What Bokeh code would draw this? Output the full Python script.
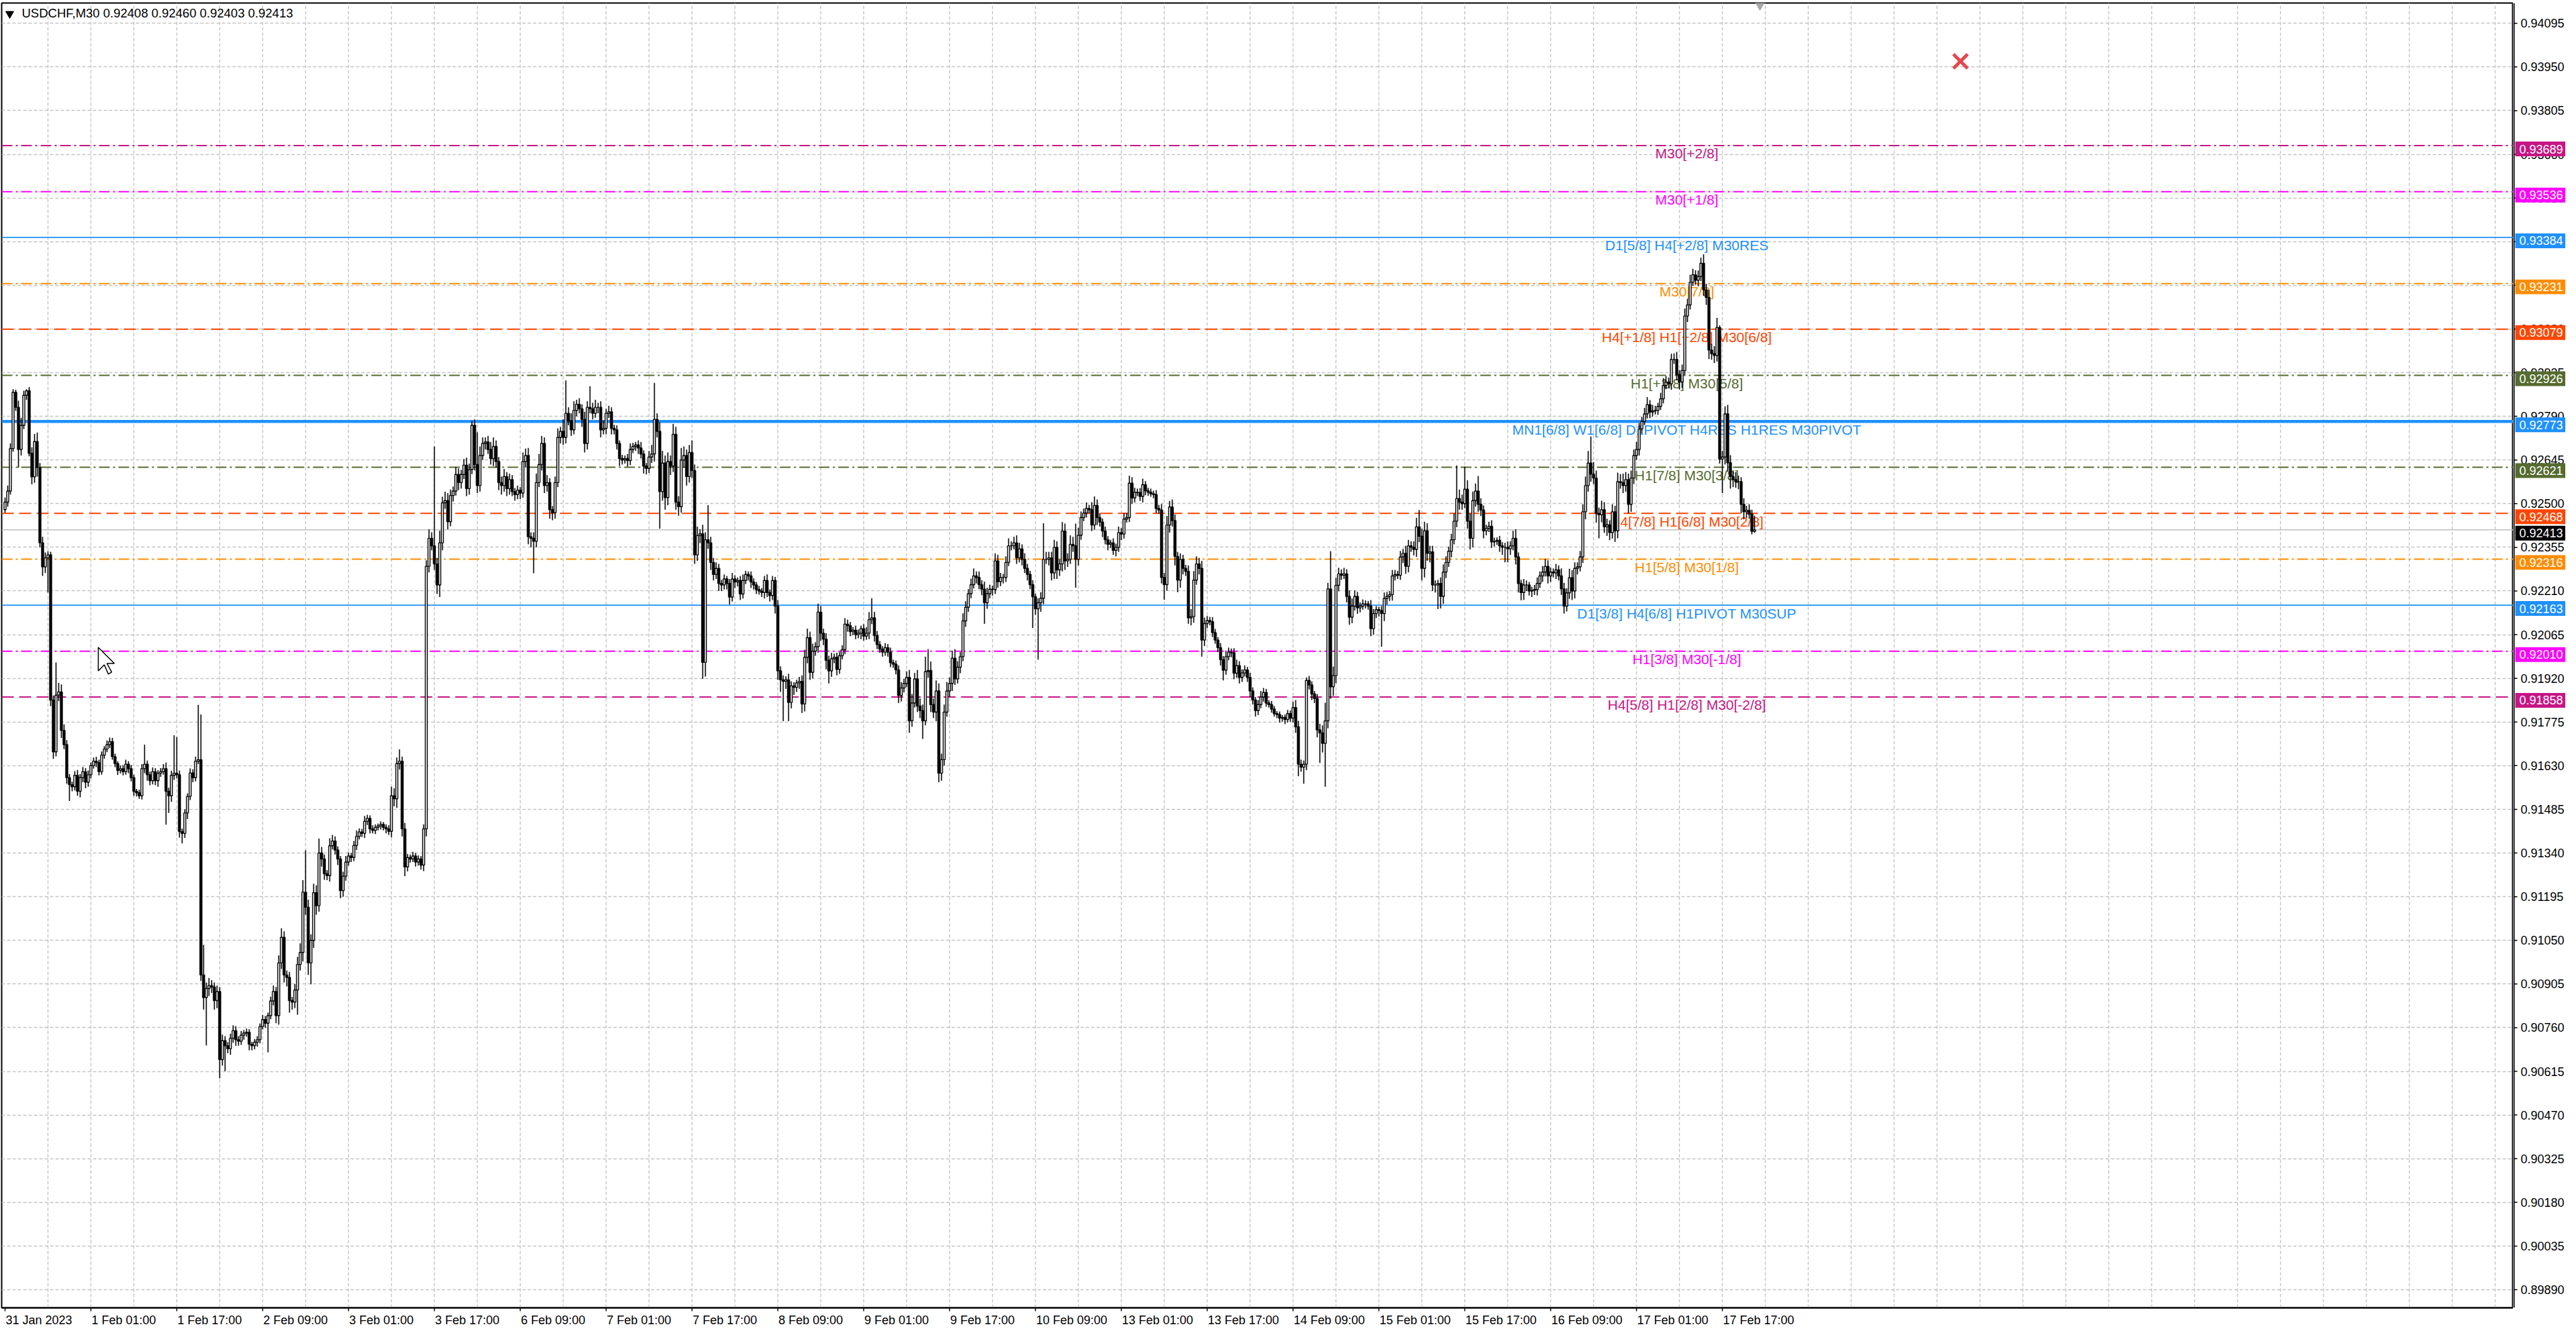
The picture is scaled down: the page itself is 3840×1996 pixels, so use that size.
import numpy as np
from bokeh.plotting import figure
from bokeh.layouts import row
from bokeh.models import Range1d, FixedTicker, Label, ColumnDataSource
from bokeh.embed import file_html
from bokeh.resources import INLINE
from bokeh.core.properties import value

# ---------------- data (prices in points above 0.90000) ----------------
TITLE_TEXT = "USDCHF,M30  0.92408 0.92460 0.92403 0.92413"
FIRST_OPEN = 2480
CLOSE = [
    2505, 2542, 2683, 2870, 2820, 2680, 2760, 2860, 2875, 2667,
    2589, 2706, 2620, 2370, 2290, 2320, 2330, 1848, 1676, 1864,
    1875, 1747, 1700, 1590, 1567, 1560, 1598, 1545, 1590, 1610,
    1575, 1600, 1630, 1645, 1640, 1610, 1665, 1685, 1700, 1710,
    1660, 1637, 1614, 1620, 1610, 1635, 1620, 1590, 1545, 1540,
    1530, 1620, 1635, 1600, 1580, 1610, 1580, 1605, 1610, 1620,
    1545, 1530, 1598, 1605, 1600, 1411, 1405, 1473, 1528, 1606,
    1590, 1645, 1650, 935, 860, 890, 900, 895, 850, 880,
    654, 717, 700, 690, 725, 750, 720, 715, 735, 742,
    745, 705, 700, 712, 720, 764, 787, 775, 800, 849,
    880, 800, 975, 1060, 935, 927, 850, 845, 885, 970,
    1010, 1210, 1160, 975, 1050, 1208, 1165, 1340, 1320, 1271,
    1265, 1364, 1380, 1350, 1320, 1215, 1263, 1310, 1330, 1325,
    1365, 1395, 1410, 1405, 1445, 1455, 1420, 1415, 1425, 1430,
    1435, 1425, 1420, 1412, 1530, 1520, 1637, 1645, 1420, 1294,
    1325, 1320, 1330, 1310, 1320, 1300, 1420, 2292, 2385, 2360,
    2300, 2230, 2370, 2503, 2510, 2440, 2527, 2542, 2597, 2570,
    2597, 2628, 2550, 2613, 2760, 2630, 2560, 2660, 2700, 2705,
    2680, 2650, 2690, 2640, 2570, 2560, 2590, 2550, 2580, 2540,
    2530, 2545, 2535, 2640, 2660, 2390, 2385, 2375, 2570, 2630,
    2700, 2560, 2570, 2480, 2470, 2570, 2720, 2740, 2720, 2800,
    2775, 2745, 2810, 2830, 2815, 2780, 2700, 2820, 2815, 2800,
    2820, 2820, 2745, 2750, 2800, 2805, 2750, 2745, 2700, 2650,
    2645, 2650, 2643, 2680, 2690, 2695, 2685, 2665, 2625, 2617,
    2655, 2665, 2780, 2740, 2540, 2635, 2520, 2640, 2625, 2730,
    2505, 2490, 2645, 2660, 2590, 2670, 2610, 2330, 2394, 2400,
    1973, 2380, 2370, 2305, 2265, 2285, 2235, 2230, 2250, 2235,
    2190, 2250, 2240, 2245, 2200, 2245, 2265, 2260, 2240, 2230,
    2215, 2210, 2205, 2245, 2205, 2195, 2245, 2160, 1945, 1915,
    1910, 1915, 1840, 1895, 1890, 1905, 1910, 1835, 1990, 2055,
    1940, 2010, 2025, 2140, 2070, 2050, 1980, 1945, 1985, 1990,
    1950, 1995, 2015, 2100, 2095, 2075, 2080, 2065, 2070, 2085,
    2060, 2070, 2115, 2121, 2062, 2032, 2017, 2007, 2022, 2007,
    1972, 1967, 1948, 1863, 1888, 1903, 1923, 1779, 1838, 1918,
    1828, 1813, 1779, 1942, 1946, 1833, 1808, 1878, 1605, 1650,
    1808, 1878, 1903, 1987, 1918, 1957, 1992, 2111, 2156, 2201,
    2231, 2260, 2255, 2231, 2216, 2171, 2201, 2216, 2215, 2310,
    2241, 2255, 2255, 2305, 2360, 2360, 2370, 2320, 2350, 2315,
    2285, 2265, 2231, 2191, 2151, 2171, 2186, 2315, 2315, 2320,
    2270, 2355, 2280, 2300, 2409, 2310, 2315, 2365, 2360, 2315,
    2395, 2454, 2469, 2484, 2480, 2429, 2494, 2454, 2439, 2409,
    2380, 2365, 2370, 2345, 2355, 2404, 2399, 2449, 2454, 2568,
    2519, 2538, 2537, 2524, 2563, 2543, 2538, 2533, 2530, 2484,
    2479, 2255, 2231, 2429, 2489, 2444, 2325, 2246, 2315, 2285,
    2275, 2121, 2125, 2246, 2300, 2285, 2047, 2102, 2112, 2108,
    2072, 2047, 2022, 1982, 1947, 1992, 2007, 2005, 1937, 1962,
    1923, 1938, 1948, 1923, 1878, 1848, 1813, 1833, 1858, 1873,
    1838, 1833, 1818, 1803, 1800, 1788, 1790, 1783, 1803, 1788,
    1823, 1759, 1635, 1625, 1635, 1913, 1898, 1868, 1853, 1749,
    1739, 1704, 1779, 2217, 1892, 1929, 2229, 2267, 2262, 2267,
    2192, 2123, 2160, 2192, 2154, 2160, 2167, 2167, 2160, 2085,
    2135, 2148, 2145, 2135, 2185, 2192, 2198, 2260, 2265, 2262,
    2323, 2335, 2292, 2360, 2355, 2348, 2423, 2392, 2285, 2410,
    2335, 2340, 2230, 2230, 2235, 2192, 2273, 2305, 2342, 2380,
    2442, 2517, 2505, 2500, 2548, 2442, 2385, 2510, 2542, 2498,
    2479, 2410, 2418, 2425, 2373, 2375, 2378, 2360, 2355, 2355,
    2350, 2360, 2385, 2323, 2235, 2205, 2230, 2230, 2210, 2212,
    2215, 2235, 2260, 2273, 2292, 2260, 2273, 2270, 2280, 2260,
    2217, 2160, 2204, 2254, 2210, 2285, 2290, 2323, 2473, 2560,
    2635, 2598, 2585, 2467, 2463, 2480, 2423, 2430, 2404, 2473,
    2410, 2573, 2570, 2560, 2580, 2498, 2585, 2660, 2680, 2748,
    2773, 2798, 2829, 2804, 2808, 2810, 2823, 2848, 2892, 2904,
    2898, 2979, 2979, 2929, 2904, 2942, 3123, 3160, 3235, 3260,
    3242, 3254, 3298, 3210, 3185, 3010, 2998, 2992, 3085, 2648,
    2655, 2798, 2636, 2590, 2580, 2573, 2573, 2498, 2473, 2478,
    2465, 2408, 2413,
]
UPPER_WICK = [
    15, 18, 17, 10, 8, 22, 25, 15, 5, 12,
    20, 25, 30, 15, 20, 18, 12, 10, 15, 109,
    30, 25, 20, 15, 12, 10, 14, 18, 12, 15,
    12, 14, 10, 12, 15, 10, 12, 10, 14, 13,
    12, 10, 8, 10, 12, 15, 10, 12, 10, 8,
    10, 15, 65, 12, 10, 14, 12, 10, 12, 15,
    20, 12, 15, 126, 120, 14, 10, 12, 10, 15,
    12, 15, 182, 150, 100, 20, 25, 18, 15, 20,
    15, 20, 15, 12, 15, 18, 15, 12, 14, 10,
    12, 10, 8, 10, 12, 10, 15, 12, 10, 14,
    20, 15, 25, 30, 20, 15, 18, 12, 20, 25,
    30, 40, 139, 25, 20, 30, 25, 48, 20, 15,
    12, 25, 20, 15, 12, 10, 15, 20, 12, 10,
    15, 20, 12, 10, 18, 12, 10, 12, 10, 8,
    10, 8, 10, 12, 30, 25, 20, 39, 15, 20,
    12, 10, 14, 10, 12, 10, 15, 20, 30, 20,
    330, 20, 40, 20, 30, 25, 20, 15, 25, 20,
    15, 20, 25, 20, 15, 20, 107, 30, 20, 15,
    20, 25, 30, 20, 15, 20, 25, 15, 20, 15,
    12, 15, 10, 30, 23, 25, 15, 20, 30, 35,
    25, 20, 25, 15, 12, 20, 30, 15, 40, 109,
    20, 25, 30, 15, 20, 15, 25, 20, 70, 20,
    25, 15, 20, 25, 15, 20, 15, 12, 15, 10,
    12, 10, 15, 20, 12, 10, 15, 20, 12, 10,
    20, 30, 121, 20, 30, 40, 25, 30, 20, 35,
    25, 20, 40, 30, 20, 25, 40, 20, 30, 15,
    30, 25, 115, 20, 15, 20, 15, 12, 15, 10,
    15, 20, 12, 10, 15, 20, 12, 10, 15, 12,
    10, 12, 10, 15, 20, 10, 15, 12, 20, 15,
    15, 12, 20, 15, 12, 10, 15, 20, 25, 30,
    20, 25, 15, 28, 20, 15, 20, 15, 20, 12,
    15, 12, 15, 20, 15, 12, 10, 15, 12, 10,
    15, 20, 25, 65, 20, 15, 12, 10, 15, 12,
    15, 10, 12, 15, 20, 15, 20, 25, 30, 20,
    30, 25, 20, 50, 71, 30, 20, 35, 25, 20,
    25, 30, 20, 25, 30, 20, 15, 25, 20, 15,
    20, 25, 15, 20, 15, 25, 20, 15, 12, 25,
    20, 15, 12, 20, 25, 15, 20, 25, 20, 15,
    20, 15, 12, 15, 10, 15, 20, 120, 25, 20,
    20, 25, 20, 15, 30, 25, 20, 30, 25, 74,
    25, 20, 15, 20, 12, 25, 30, 20, 15, 12,
    15, 12, 10, 15, 12, 20, 15, 20, 15, 25,
    20, 15, 12, 15, 20, 12, 10, 12, 10, 15,
    12, 20, 15, 30, 20, 25, 20, 15, 20, 15,
    12, 20, 25, 30, 25, 20, 25, 20, 15, 12,
    15, 12, 10, 15, 12, 20, 15, 12, 15, 20,
    15, 12, 15, 10, 15, 12, 10, 15, 20, 15,
    12, 10, 12, 10, 8, 10, 8, 10, 12, 10,
    20, 25, 20, 15, 12, 10, 15, 12, 10, 15,
    20, 25, 60, 20, 125, 30, 25, 20, 15, 20,
    15, 20, 25, 20, 15, 12, 15, 12, 10, 20,
    15, 12, 10, 15, 20, 15, 12, 20, 15, 12,
    20, 15, 25, 20, 15, 20, 30, 56, 25, 30,
    25, 20, 20, 15, 12, 20, 25, 20, 15, 20,
    25, 110, 30, 25, 75, 30, 25, 30, 25, 50,
    20, 15, 12, 15, 20, 12, 10, 15, 12, 15,
    20, 15, 25, 30, 15, 12, 20, 15, 10, 12,
    15, 20, 15, 20, 25, 20, 15, 12, 20, 15,
    25, 20, 15, 30, 25, 20, 15, 20, 25, 30,
    40, 88, 40, 25, 20, 30, 25, 20, 15, 25,
    20, 30, 25, 30, 25, 20, 25, 20, 25, 20,
    15, 20, 25, 15, 20, 15, 12, 20, 25, 20,
    15, 19, 20, 25, 15, 20, 25, 20, 25, 20,
    15, 20, 19, 30, 20, 25, 20, 25, 32, 7,
    20, 25, 30, 25, 20, 25, 20, 15, 20, 15,
    20, 15, 47,
]
LOWER_WICK = [
    10, 15, 12, 10, 12, 60, 20, 12, 15, 10,
    25, 20, 30, 15, 30, 20, 115, 20, 23, 15,
    20, 25, 15, 20, 54, 15, 12, 15, 20, 15,
    20, 15, 12, 10, 15, 12, 10, 12, 10, 12,
    10, 12, 15, 10, 12, 10, 15, 12, 15, 12,
    10, 12, 15, 20, 15, 12, 15, 20, 12, 10,
    111, 57, 20, 15, 12, 20, 33, 15, 20, 12,
    15, 12, 10, 20, 40, 159, 25, 20, 30, 25,
    62, 20, 85, 15, 20, 15, 20, 15, 12, 15,
    12, 20, 15, 12, 15, 12, 10, 15, 97, 12,
    15, 25, 30, 20, 25, 30, 40, 25, 20, 82,
    20, 30, 25, 40, 71, 25, 30, 20, 25, 20,
    15, 20, 12, 15, 20, 25, 20, 15, 12, 15,
    12, 15, 10, 12, 15, 12, 15, 10, 12, 10,
    12, 10, 15, 12, 20, 25, 30, 20, 25, 31,
    15, 12, 10, 15, 12, 15, 20, 25, 20, 15,
    20, 30, 40, 25, 20, 25, 15, 20, 15, 25,
    20, 15, 25, 20, 15, 20, 25, 20, 15, 20,
    15, 20, 25, 20, 25, 30, 20, 25, 20, 15,
    20, 15, 20, 15, 20, 25, 30, 106, 20, 15,
    20, 25, 20, 30, 25, 20, 15, 20, 25, 20,
    15, 20, 15, 20, 15, 25, 30, 20, 15, 20,
    15, 20, 25, 15, 20, 15, 20, 15, 20, 25,
    15, 12, 20, 15, 12, 15, 20, 15, 25, 20,
    15, 20, 25, 20, 123, 30, 40, 25, 30, 20,
    25, 30, 20, 25, 30, 20, 25, 30, 20, 25,
    55, 47, 20, 25, 20, 15, 25, 20, 15, 20,
    25, 15, 20, 15, 20, 15, 12, 15, 20, 15,
    15, 12, 15, 20, 15, 20, 15, 25, 30, 40,
    132, 25, 62, 20, 25, 15, 20, 30, 25, 20,
    25, 20, 15, 20, 25, 20, 30, 42, 20, 15,
    20, 15, 12, 15, 20, 15, 12, 15, 12, 20,
    15, 12, 20, 15, 20, 15, 12, 15, 12, 15,
    15, 12, 15, 25, 20, 15, 12, 40, 20, 15,
    20, 25, 60, 15, 20, 25, 20, 30, 30, 25,
    20, 15, 20, 25, 20, 15, 20, 15, 20, 15,
    15, 12, 20, 15, 20, 70, 20, 15, 20, 15,
    20, 15, 20, 15, 12, 15, 12, 20, 15, 20,
    15, 20, 15, 104, 20, 169, 30, 20, 15, 20,
    25, 20, 30, 20, 25, 30, 20, 15, 20, 94,
    20, 15, 12, 15, 12, 20, 15, 25, 15, 20,
    15, 20, 12, 15, 20, 15, 20, 15, 12, 15,
    20, 15, 12, 15, 20, 15, 12, 10, 12, 15,
    12, 20, 50, 20, 25, 20, 30, 40, 25, 20,
    15, 20, 25, 20, 15, 20, 55, 20, 15, 12,
    15, 12, 15, 20, 34, 15, 12, 15, 20, 15,
    20, 15, 12, 15, 20, 15, 20, 15, 12, 15,
    12, 10, 12, 10, 12, 15, 12, 15, 10, 12,
    15, 20, 40, 15, 55, 20, 15, 20, 15, 25,
    100, 30, 144, 25, 40, 30, 25, 20, 15, 12,
    20, 25, 20, 15, 20, 15, 12, 15, 12, 25,
    20, 15, 20, 110, 25, 20, 15, 20, 15, 12,
    15, 20, 25, 20, 15, 20, 25, 20, 40, 30,
    25, 30, 20, 25, 80, 40, 25, 20, 15, 20,
    15, 20, 25, 20, 15, 25, 37, 30, 20, 25,
    20, 25, 15, 12, 20, 15, 12, 20, 25, 50,
    45, 20, 15, 25, 30, 26, 25, 20, 15, 20,
    15, 20, 15, 20, 15, 25, 20, 15, 20, 15,
    20, 25, 18, 20, 30, 25, 20, 15, 20, 25,
    20, 25, 20, 30, 78, 25, 20, 30, 25, 20,
    37, 25, 20, 25, 20, 30, 25, 20, 15, 20,
    15, 12, 15, 20, 15, 12, 15, 12, 15, 12,
    15, 20, 15, 20, 25, 20, 15, 20, 15, 12,
    15, 20, 15, 20, 25, 30, 20, 25, 20, 15,
    113, 25, 30, 40, 25, 20, 25, 30, 25, 20,
    15, 10, 5,
]

X_TICK_LABELS = [
    "31 Jan 2023", "1 Feb 01:00", "1 Feb 17:00", "2 Feb 09:00", "3 Feb 01:00",
    "3 Feb 17:00", "6 Feb 09:00", "7 Feb 01:00", "7 Feb 17:00", "8 Feb 09:00",
    "9 Feb 01:00", "9 Feb 17:00", "10 Feb 09:00", "13 Feb 01:00", "13 Feb 17:00",
    "14 Feb 09:00", "15 Feb 01:00", "15 Feb 17:00", "16 Feb 09:00", "17 Feb 01:00",
    "17 Feb 17:00",
]
BARS_PER_LABEL = 32
BARS_PER_GRID = 16

Y_TICK_LABELS = [
    "0.89890", "0.90035", "0.90180", "0.90325", "0.90470", "0.90615", "0.90760",
    "0.90905", "0.91050", "0.91195", "0.91340", "0.91485", "0.91630", "0.91775",
    "0.91920", "0.92065", "0.92210", "0.92355", "0.92500", "0.92645", "0.92790",
    "0.92935", "0.93080", "0.93225", "0.93370", "0.93515", "0.93660", "0.93805",
    "0.93950", "0.94095",
]

LEVEL_PRICES = [0.93689, 0.93536, 0.93384, 0.93231, 0.93079, 0.92926, 0.92773,
                0.92621, 0.92468, 0.92316, 0.92163, 0.92010, 0.91858]
LEVEL_NAMES = [
    "M30[+2/8]", "M30[+1/8]", "D1[5/8] H4[+2/8] M30RES", "M30[7/8]",
    "H4[+1/8] H1[+2/8] M30[6/8]", "H1[+1/8] M30[5/8]",
    "MN1[6/8] W1[6/8] D1PIVOT H4RES H1RES M30PIVOT", "H1[7/8] M30[3/8]",
    "H4[7/8] H1[6/8] M30[2/8]", "H1[5/8] M30[1/8]", "D1[3/8] H4[6/8] H1PIVOT M30SUP",
    "H1[3/8] M30[-1/8]", "H4[5/8] H1[2/8] M30[-2/8]",
]
CURRENT_PRICE = 0.92413

# ---------------- styles ----------------
LEVEL_COLORS = ["#C71585", "#FF00FF", "#1E90FF", "#FF8C00", "#FF4500", "#556B2F",
                "#1E90FF", "#556B2F", "#FF4500", "#FF8C00", "#1E90FF", "#FF00FF",
                "#C71585"]
LEVEL_KIND = ["dashdot", "dashdot", "solid", "dashdot", "dashed", "dashdot", "thick",
              "dashdot", "dashed", "dashdot", "solid", "dashdot", "dashed"]
DASHES = {"dashdot": "16 5 3 5", "dashed": "18 8", "solid": "solid", "thick": "solid"}
WIDTHS = {"dashdot": 2.0, "dashed": 2.0, "solid": 1.8, "thick": 4.5}
FONT = "Liberation Sans"
# approximate Arial advance widths (em) used to left-align the time labels
CHAR_EM = {" ": 0.278, ":": 0.278, "J": 0.5, "F": 0.611}

BASE, POINT = 0.90, 1e-5
TOTAL_W, H = 3824, 1980
FRAME_L, FRAME_T, FRAME_R, FRAME_B = 2, 4, 3746, 1952
SCALE_W = TOTAL_W - FRAME_R
PX_PER_BAR = 4.0
PX_PER_UNIT = 44962.0


def bx(px):  # screen x -> bar index
    return (px - 7) / PX_PER_BAR


def py(sy):  # screen y -> price
    return 0.94095 - (sy - 34.3) / PX_PER_UNIT


X0, X1 = bx(FRAME_L), bx(FRAME_R)
Y0, Y1 = py(FRAME_B), py(FRAME_T)
UPP = 1.0 / PX_PER_UNIT
yr = Range1d(Y0, Y1)

# ---------------- derived candle arrays ----------------
c = np.array(CLOSE, dtype=float)
o = np.concatenate([[FIRST_OPEN], c[:-1]])
body_top = np.maximum(o, c)
body_bot = np.minimum(o, c)
hi = body_top + np.array(UPPER_WICK, dtype=float)
lo = body_bot - np.array(LOWER_WICK, dtype=float)
xs = np.arange(len(c))
src = ColumnDataSource(dict(
    x=xs,
    top=BASE + body_top * POINT,
    bottom=BASE + body_bot * POINT,
    hi=BASE + hi * POINT,
    lo=BASE + lo * POINT,
    fill=["white" if cc >= oo else "black" for oo, cc in zip(o, c)],
))

# ================= main chart =================
p = figure(width=FRAME_R, height=H, x_range=Range1d(X0, X1), y_range=yr,
           y_axis_location=None, output_backend="svg", toolbar_location=None,
           min_border_left=FRAME_L, min_border_top=FRAME_T,
           min_border_right=0, min_border_bottom=H - FRAME_B)
p.background_fill_color = "white"
p.border_fill_color = "white"
p.outline_line_color = "black"
p.outline_line_width = 2

x_ticks = [i * BARS_PER_LABEL for i in range(len(X_TICK_LABELS))]


def text_px(s, size=18):
    return size * sum(CHAR_EM.get(ch, 0.556) for ch in s)


# labels start at their tick (MT4 style); the tick marks are drawn as minor ticks
label_pos = [round(t + (text_px(s) / 2 + 1) / PX_PER_BAR, 3) for t, s in zip(x_ticks, X_TICK_LABELS)]
xax = p.xaxis[0]
xax.ticker = FixedTicker(ticks=label_pos, minor_ticks=x_ticks)
xax.major_label_overrides = {t: s for t, s in zip(label_pos, X_TICK_LABELS)}
xax.axis_line_color = "black"
xax.axis_line_width = 2
xax.major_label_text_font = FONT
xax.major_label_text_font_size = "18px"
xax.major_label_text_color = "black"
xax.major_tick_line_color = None
xax.major_tick_in = 0
xax.major_tick_out = 0
xax.minor_tick_line_color = "black"
xax.minor_tick_line_width = 1.5
xax.minor_tick_in = 0
xax.minor_tick_out = 5
xax.major_label_standoff = 3

y_ticks = [float(s) for s in Y_TICK_LABELS]
p.xgrid[0].ticker = FixedTicker(ticks=[i * BARS_PER_GRID for i in range(1, 60)])
p.ygrid[0].ticker = FixedTicker(ticks=y_ticks)
for g in (p.xgrid[0], p.ygrid[0]):
    g.grid_line_color = "#C4C4C4"
    g.grid_line_width = 1.4
    g.grid_line_dash = "5 3"

# level lines and their names
for price, col, kind in zip(LEVEL_PRICES, LEVEL_COLORS, LEVEL_KIND):
    p.segment(x0=[X0], y0=[price], x1=[X1], y1=[price], line_color=col,
              line_width=WIDTHS[kind], line_dash=DASHES[kind])
p.text(x=[bx(2514)] * len(LEVEL_PRICES),
       y=[pr - 12 * UPP for pr in LEVEL_PRICES],
       text=LEVEL_NAMES, text_color=LEVEL_COLORS,
       text_font=value(FONT), text_font_size="21px",
       text_align="center", text_baseline="middle")
p.segment(x0=[X0], y0=[CURRENT_PRICE], x1=[X1], y1=[CURRENT_PRICE],
          line_color="#C0C0C0", line_width=1.5)

# candles
p.segment(x0="x", y0="hi", x1="x", y1="lo", source=src, line_color="black", line_width=1.6)
p.vbar(x="x", width=0.75, top="top", bottom="bottom", source=src,
       fill_color="fill", line_color="black", line_width=1.4)

# title
p.scatter(x=[bx(14)], y=[py(20)], marker="inverted_triangle", size=12,
          fill_color="black", line_color="black")
p.add_layout(Label(x=bx(32), y=py(19.5), text=TITLE_TEXT,
                   text_font=FONT, text_font_size="18.5px", text_color="black",
                   text_align="left", text_baseline="middle"))

# chart-shift marker at the top edge
p.scatter(x=[bx(2623)], y=[py(7)], marker="inverted_triangle", size=14,
          fill_color="#A8A8A8", line_color="#A8A8A8")

# red close cross
p.scatter(x=[bx(2922)], y=[py(91)], marker="x", size=30,
          line_color="#E5484D", line_width=5)

# mouse cursor
tip_x, tip_y = 146, 966
cur = [(0, 0), (0, 35), (9, 26), (15, 40), (20, 37), (13, 24), (24, 24)]
p.patch(x=[bx(tip_x + dx) for dx, dy in cur],
        y=[py(tip_y + dy) for dx, dy in cur],
        fill_color="white", line_color="black", line_width=1.5)

# ================= price scale (right) =================
s = figure(width=SCALE_W, height=H, x_range=Range1d(0, SCALE_W), y_range=yr,
           x_axis_location=None, y_axis_location=None,
           output_backend="svg", toolbar_location=None,
           min_border_left=0, min_border_right=0, min_border_top=FRAME_T,
           min_border_bottom=H - FRAME_B)
s.background_fill_color = "white"
s.border_fill_color = "white"
s.outline_line_color = None
s.xgrid.visible = False
s.ygrid.visible = False

s.segment(x0=[1], y0=[Y0], x1=[1], y1=[Y1], line_color="black", line_width=2)
s.segment(x0=[1] * len(y_ticks), y0=y_ticks, x1=[6] * len(y_ticks), y1=y_ticks,
          line_color="black", line_width=1.5)
s.text(x=[11] * len(y_ticks), y=y_ticks, text=Y_TICK_LABELS, text_color="black",
       text_font=value(FONT), text_font_size="18px",
       text_align="left", text_baseline="middle")

box_prices = LEVEL_PRICES + [CURRENT_PRICE]
box_colors = LEVEL_COLORS + ["black"]
box_y = [pr - 5 * UPP for pr in box_prices]
s.rect(x=[3 + 40] * len(box_prices), y=box_y, width=80, height=22 * UPP,
       fill_color=box_colors, line_color=None)
s.text(x=[9] * len(box_prices), y=box_y, text=[f"{pr:.5f}" for pr in box_prices],
       text_color="white", text_font=value(FONT), text_font_size="18px",
       text_align="left", text_baseline="middle")

open("out.html", "w").write(file_html(row(p, s), INLINE))
